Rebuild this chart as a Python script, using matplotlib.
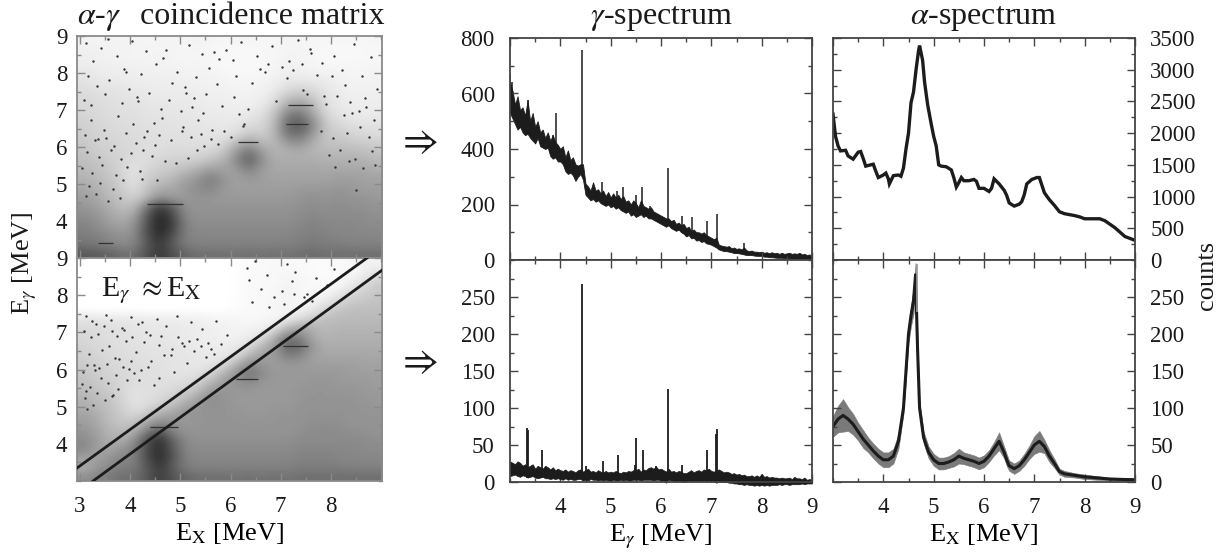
import numpy as np
import matplotlib
matplotlib.use("Agg")
import matplotlib.pyplot as plt
from matplotlib.ticker import MultipleLocator, FixedLocator

plt.rcParams['font.family'] = ['Liberation Serif', 'DejaVu Serif']
plt.rcParams['mathtext.fontset'] = 'stix'

# ---------- coincidence matrices: darkness per 0.25 MeV cell, rows from Eg=8.875 down to 3.125
matrix_top = [
 [6,5,6,5,6,4,5,5,5,6,5,4,5,5,4,4,5,5,4,4,4,4,4,4],
 [7,6,6,5,5,5,5,5,4,5,4,3,3,3,4,4,5,5,4,3,3,3,3,4],
 [7,7,6,6,5,5,6,5,4,5,4,3,3,3,4,4,6,5,4,3,3,3,4,4],
 [9,8,7,7,7,6,6,6,5,5,5,3,3,3,3,5,7,6,5,4,5,4,4,5],
 [12,10,9,8,8,7,7,7,6,6,6,5,4,4,5,6,8,9,8,8,6,5,5,6],
 [14,12,11,11,9,9,8,8,8,7,6,6,5,5,6,8,14,16,14,10,8,6,6,6],
 [16,15,13,12,11,10,9,9,9,8,7,7,6,6,7,12,24,28,22,13,9,7,7,7],
 [17,16,14,13,13,11,11,10,10,9,8,8,7,7,9,18,38,45,32,14,10,8,7,8],
 [18,17,15,14,14,12,12,11,11,10,9,9,8,10,14,26,55,60,40,18,12,10,9,9],
 [20,18,16,15,14,13,13,12,12,11,10,10,11,15,16,30,65,72,52,24,17,14,12,12],
 [22,19,17,16,15,14,13,13,13,12,12,11,13,24,20,32,60,65,45,24,22,18,16,15],
 [24,20,19,17,16,14,14,14,14,14,13,16,30,40,30,30,45,48,35,26,26,24,22,20],
 [26,22,20,18,16,14,15,17,16,16,18,24,44,62,42,32,34,36,32,30,30,30,28,26],
 [28,25,22,18,14,15,18,20,20,22,28,34,50,70,48,36,36,36,36,34,34,34,34,30],
 [30,28,24,18,12,18,22,24,30,36,44,40,42,54,42,38,38,38,38,38,38,38,38,36],
 [34,30,26,20,12,22,26,32,40,46,58,46,40,44,42,40,40,40,40,40,42,42,40,40],
 [38,34,28,22,14,26,36,38,44,50,52,44,42,42,42,42,42,44,44,44,46,44,42,42],
 [42,38,30,26,20,32,48,42,44,46,46,44,44,44,44,44,44,46,48,46,48,46,46,44],
 [46,42,36,28,30,60,88,70,48,46,46,46,46,46,46,46,46,48,50,48,50,48,48,46],
 [50,46,40,34,40,72,94,80,50,48,48,48,48,48,48,48,48,50,52,50,50,50,50,48],
 [54,50,44,40,46,76,96,84,54,50,50,50,50,50,50,50,50,52,54,52,52,52,50,50],
 [56,54,50,46,50,76,92,76,54,52,52,52,52,52,52,52,52,54,56,54,52,52,52,52],
 [60,58,54,50,52,72,86,70,56,54,54,54,54,54,54,54,54,56,58,56,56,54,54,54],
 [72,70,68,62,62,76,86,76,66,62,62,62,60,62,60,62,60,62,64,62,62,62,62,62],
]
matrix_bottom = [
 [0,0,0,0,0,0,0,0,0,0,0,0,1,2,3,3,3,3,2,2,3,4,6,5],
 [0,0,0,0,0,0,0,0,0,0,0,0,1,2,3,3,4,3,2,2,2,3,6,12],
 [0,0,0,0,0,0,0,0,0,0,0,0,1,3,3,3,5,4,3,2,3,6,12,22],
 [0,0,0,0,0,0,0,0,0,0,0,0,1,3,3,4,6,4,3,3,6,14,20,24],
 [0,0,0,0,0,0,0,0,0,0,0,0,1,3,3,4,5,4,4,8,16,22,24,26],
 [0,0,0,0,0,0,0,0,0,0,0,0,2,3,3,4,5,5,10,18,24,28,28,28],
 [12,11,10,10,9,9,8,8,7,7,5,5,4,3,4,4,8,14,22,28,30,30,30,30],
 [16,15,14,13,12,11,10,10,9,8,7,6,5,5,6,10,30,40,34,30,32,32,32,32],
 [17,16,14,13,12,11,11,10,9,8,7,6,6,8,14,34,58,54,36,32,34,34,34,34],
 [19,17,15,14,13,12,12,11,10,9,8,8,10,14,32,42,70,66,44,36,36,36,36,36],
 [21,18,16,15,14,13,12,12,11,10,9,10,14,32,42,42,56,52,40,38,38,38,38,38],
 [23,20,18,16,15,13,13,12,11,10,12,16,34,52,46,42,44,44,42,42,42,42,40,40],
 [25,22,19,17,15,14,13,12,12,14,18,34,48,62,50,44,44,44,44,44,44,42,42,42],
 [27,24,21,17,14,14,14,14,16,20,34,44,46,50,44,44,44,44,46,46,44,44,44,42],
 [30,27,23,18,12,14,14,18,22,32,46,46,44,44,44,44,44,46,46,46,46,46,44,44],
 [34,30,26,20,12,14,18,24,34,44,50,46,44,44,44,44,44,46,46,46,46,46,46,44],
 [38,34,28,22,14,20,30,36,46,46,46,46,46,44,44,46,46,46,48,46,48,46,46,46],
 [42,38,28,24,24,36,46,46,44,46,46,46,46,46,46,46,46,46,48,48,48,46,46,46],
 [46,40,32,30,32,52,70,50,46,46,46,46,46,46,46,46,46,48,50,50,50,48,48,46],
 [50,44,34,34,46,76,90,66,50,48,48,48,48,48,48,48,48,50,50,50,50,50,50,48],
 [52,42,38,46,54,78,92,72,52,50,50,50,50,50,50,50,50,52,52,52,52,52,50,50],
 [42,40,46,52,54,78,92,74,54,52,52,52,52,52,52,52,52,54,54,54,52,52,52,52],
 [34,44,50,56,56,72,86,70,56,54,54,54,54,54,54,54,54,56,56,56,56,54,54,54],
 [48,52,58,62,62,72,84,74,66,62,62,62,60,62,60,62,60,62,62,62,62,62,62,62],
]

# individual dots estimated from the sparser areas
dots_top_x = [3.12,3.26,3.41,3.73,3.88,4.03,4.31,4.52,4.66,4.94,5.18,5.43,5.57,5.92,6.04,6.21,6.53,6.82,7.03,7.34,7.61,7.83,8.22,8.47,8.81,
              3.16,3.33,3.58,3.97,4.22,4.37,4.84,5.09,5.31,5.52,5.74,6.11,6.68,7.12,7.42,7.72,8.02,8.29,8.63,8.92,
              3.07,3.22,3.49,3.84,4.13,4.61,4.77,5.02,5.27,5.46,5.83,6.07,6.34,6.91,7.24,7.53,7.91,8.12,8.38,8.71,
              3.21,3.47,3.76,4.06,4.33,4.64,5.06,5.36,5.63,6.16,6.59,7.17,7.44,7.86,8.26,8.56,8.86,
              3.55,4.15,4.72,5.23,5.78,6.42,7.58,8.42,3.35,3.92,4.48,5.12,5.68,6.27,6.74,8.07,8.68,
              3.09,3.29,3.52,3.68,3.91,4.11,4.28,4.49,4.58,4.82,5.04,5.22,5.41,5.62,5.87,3.14,3.38,3.62,3.82,4.02,
              4.26,4.44,4.69,4.91,5.15,5.33,3.04,3.24,3.44,3.71,3.94,4.19,4.54,3.18,3.39,3.66,3.86,4.23,3.11,3.31,
              3.56,3.79,5.47,5.76,6.0,6.25,7.81,8.05,8.33,8.58,8.77,7.96,8.18,8.49,8.83,8.08,8.36,8.64,8.88,8.5]
dots_top_y = [8.81,8.33,8.68,8.47,8.12,8.87,8.59,8.24,8.41,8.03,8.76,8.52,8.14,8.63,8.36,8.84,8.47,8.72,8.17,8.88,8.53,8.28,8.07,8.79,8.43,
              7.93,7.64,7.82,7.58,7.97,7.46,7.73,7.62,7.88,7.42,7.69,7.92,8.03,7.86,8.23,7.94,7.91,7.67,7.93,7.57,
              7.27,7.13,7.42,7.18,7.36,7.03,7.27,6.98,7.33,6.92,7.12,7.34,7.02,7.23,8.08,7.43,7.17,7.38,7.22,7.07,
              6.73,6.47,6.83,6.62,6.42,6.78,6.53,6.72,6.47,6.88,8.12,8.32,7.53,7.37,6.87,6.98,6.72,
              8.91,7.24,8.62,7.08,8.38,7.73,8.66,6.93,6.21,8.02,6.64,7.47,8.56,6.62,8.23,8.47,7.33,
              6.32,6.18,6.24,6.03,6.37,6.12,6.28,6.05,6.33,6.18,6.44,6.27,6.36,6.22,6.43,5.87,5.74,5.92,5.68,5.83,
              5.92,5.77,5.63,5.58,5.71,5.93,5.42,5.31,5.52,5.23,5.47,5.36,5.12,4.94,5.03,4.87,5.11,5.13,4.67,4.72,
              4.54,4.63,6.02,6.08,6.26,6.58,6.44,6.23,6.37,6.53,6.28,5.78,5.92,5.67,5.88,5.47,5.63,5.42,5.51,4.83]
dots_bottom_x = [6.32,6.48,6.61,6.87,7.12,7.22,7.28,7.53,7.71,7.92,8.07,6.43,6.72,7.03,7.26,7.47,6.36,6.77,7.06,7.62,
                 3.12,3.31,3.52,3.83,4.02,4.24,4.53,4.71,4.93,5.21,5.44,5.72,5.93,3.22,3.63,3.92,4.31,4.62,5.03,5.34,5.61,
                 3.17,3.43,3.78,4.12,4.42,4.82,5.13,5.51,3.06,3.38,3.72,4.07,4.57,4.87,3.58,4.18,3.27,3.97,4.47,3.11,3.66,
                 3.08,3.24,3.36,3.47,3.61,3.74,3.88,4.04,4.16,4.28,4.39,4.58,4.67,4.84,4.96,5.07,5.18,5.27,5.42,5.56,5.67,5.82,
                 3.14,3.29,3.53,3.69,3.85,4.01,4.22,4.36,3.04,3.19,3.41,3.56,3.76,3.94,3.09,3.33,3.49,3.63,3.13,3.26]
dots_bottom_y = [8.73,8.92,8.17,7.94,8.83,8.38,8.62,8.03,8.47,8.27,8.71,7.82,8.53,8.12,8.04,7.96,8.42,7.68,7.77,7.83,
                 7.43,7.22,7.46,7.13,7.41,7.28,7.37,7.16,7.44,7.27,7.08,7.31,6.93,6.87,7.04,6.78,7.02,6.91,6.72,6.83,6.55,
                 6.42,6.53,6.27,6.46,6.23,6.38,6.17,6.33,5.92,6.03,5.84,5.91,5.78,5.93,6.64,5.72,6.12,6.02,5.57,5.43,5.32,
                 7.04,7.31,6.96,7.18,7.34,6.91,7.06,6.88,7.22,6.73,6.94,6.67,6.38,6.56,6.87,6.64,6.77,6.49,6.62,6.72,6.43,6.68,
                 6.12,5.98,6.16,6.32,6.08,6.24,5.98,6.07,5.62,5.52,5.76,5.63,5.47,5.72,5.23,5.36,5.18,5.28,4.93,5.04]

gate_upper_x = [2.94, 8.72]
gate_upper_y = [3.35, 9.0]
gate_lower_x = [3.26, 9.02]
gate_lower_y = [3.0, 8.67]

# gamma spectrum, all coincidences: band edges every 0.05 MeV and narrow lines
gamma_high = [640,610,560,590,540,550,520,575,500,530,480,500,460,470,440,460,430,450,425,415,
              400,410,370,395,360,370,345,340,345,345,275,265,250,280,250,255,240,250,230,245,
              225,240,225,235,220,230,210,215,200,215,205,190,215,195,190,185,190,175,170,165,
              160,155,150,150,140,145,130,135,125,130,115,120,105,110,100,100,95,100,90,85,
              80,75,80,55,52,50,48,50,42,45,40,42,38,45,35,32,34,30,30,28,
              30,26,28,24,28,24,26,22,26,22,24,26,22,24,22,26,20,22,18,20,15]
gamma_low = [530,510,490,470,480,460,450,455,440,430,420,440,410,405,400,405,375,365,370,355,
             355,345,320,310,315,305,285,300,310,290,235,225,215,220,210,215,205,200,195,200,
             190,195,185,190,180,175,170,175,160,165,155,160,165,155,160,150,150,145,140,135,
             130,125,120,125,115,110,105,110,100,95,85,90,78,80,70,72,65,68,60,58,
             55,50,45,38,35,32,32,30,28,25,25,24,22,20,18,18,18,16,15,15,
             15,12,12,10,10,9,8,8,8,7,6,6,5,5,4,4,3,3,2,2,0]
gamma_line_x = [3.0,3.04,3.36,3.85,3.92,4.44,4.83,5.13,5.25,5.5,5.62,5.78,6.13,6.41,6.62,6.92,7.12,7.64]
gamma_line_y = [670,640,575,450,530,755,280,250,262,235,262,195,330,160,155,140,165,60]
gamma_line_base = [600,580,500,400,400,320,230,210,200,190,190,160,140,110,90,75,60,30]

# gamma spectrum, gated
gated_high = [28,26,24,28,26,22,24,20,22,24,18,22,20,18,22,20,17,20,16,18,
              16,15,17,14,16,15,13,16,17,14,16,18,14,15,13,16,14,13,15,13,
              14,13,15,13,12,14,13,15,14,16,16,18,14,17,16,19,20,18,21,17,
              18,16,14,18,14,15,13,15,14,12,12,14,16,13,15,16,14,17,16,18,
              15,14,16,17,15,13,14,13,11,12,10,11,9,10,8,8,9,7,9,7,
              11,7,8,6,7,6,6,5,6,5,5,6,4,7,5,5,4,6,3,4,3]
gated_low = [8,9,10,8,7,9,8,6,7,8,6,5,6,7,5,5,4,5,4,5,
             4,3,5,3,4,3,3,4,4,2,3,2,4,3,3,2,3,2,3,2,
             2,3,2,2,3,2,3,2,2,3,3,3,2,3,3,3,3,2,3,3,
             2,2,-1,3,2,2,1,2,1,0,1,2,1,2,1,2,1,2,1,2,
             1,1,-1,1,0,0,0,-1,-1,-2,-2,-3,-3,-4,-3,-4,-4,-5,-4,-5,
             -4,-5,-4,-5,-4,-4,-4,-3,-4,-3,-3,-4,-3,-3,-3,-3,-2,-3,-2,-2,-2]
gated_line_x = [3.33,3.36,3.64,4.44,4.5,4.84,5.14,5.48,5.51,5.64,5.9,6.13,6.41,6.92,7.10,7.12,8.0]
gated_line_y = [73,70,43,268,22,28,36,23,59,43,22,126,23,43,65,72,10]

# alpha spectrum, all coincidences
alpha_x = [3.0,3.05,3.1,3.15,3.25,3.3,3.4,3.5,3.55,3.6,3.65,3.8,3.85,3.9,4.0,4.05,4.1,4.12,4.2,4.3,4.35,4.4,4.45,4.5,4.55,4.6,4.65,4.7,4.72,4.78,
           4.82,4.88,4.95,5.0,5.05,5.1,5.15,5.25,5.35,5.4,5.45,5.5,5.55,5.6,5.7,5.8,5.85,5.9,6.0,6.1,6.15,6.2,6.25,6.3,6.4,6.45,6.5,6.6,6.7,6.75,
           6.8,6.85,6.95,7.05,7.1,7.2,7.3,7.4,7.5,7.6,7.8,7.9,8.0,8.1,8.3,8.4,8.6,8.8,9.0]
alpha_y = [2300,1950,1800,1720,1730,1640,1590,1700,1710,1600,1480,1510,1400,1300,1340,1370,1280,1200,1330,1340,1320,1450,1750,2000,2480,2650,3000,3300,3380,3150,
           2800,2450,2150,1950,1800,1500,1480,1470,1420,1300,1150,1220,1300,1250,1250,1270,1240,1130,1130,1080,1130,1280,1240,1200,1100,1020,900,850,880,920,
           1030,1200,1270,1300,1300,1060,950,860,760,730,700,680,650,650,650,620,510,370,310]

# alpha spectrum, gated
gated_alpha_x = [3.0,3.1,3.2,3.3,3.4,3.5,3.6,3.7,3.8,3.9,4.0,4.1,4.2,4.3,4.4,4.45,4.5,4.55,4.6,4.64,4.68,4.72,4.8,4.9,5.0,5.1,5.2,5.3,5.4,5.5,5.6,5.7,5.8,5.9,6.0,6.1,
                 6.2,6.3,6.4,6.45,6.5,6.6,6.7,6.8,6.9,7.0,7.1,7.2,7.3,7.4,7.5,7.6,7.8,8.0,8.5,9.0]
gated_alpha_y = [75,85,90,85,78,68,58,50,42,35,30,30,35,55,100,150,200,225,245,280,180,100,60,40,30,25,25,27,30,35,32,30,28,25,28,35,
                 45,55,40,30,22,18,22,30,40,50,55,48,35,25,14,11,9,7,4,3]
gated_alpha_err = [14,18,22,16,14,12,12,10,10,10,10,10,10,10,8,10,12,14,18,16,12,8,8,8,8,8,8,8,9,10,8,8,8,8,8,8,
                   9,12,8,8,7,7,7,8,9,12,14,9,8,6,4,4,3,3,2,2]

left_ticks = [3,4,5,6,7,8]
left_y_ticks = [4,5,6,7,8,9]
right_x_ticks = [4,5,6,7,8,9]
gamma_top_ticks = [0,200,400,600,800]
low_ticks = [0,50,100,150,200,250]
alpha_top_ticks = [0,500,1000,1500,2000,2500,3000,3500]

W, H = 1231, 556
fig = plt.figure(figsize=(W/100, H/100), dpi=100)
FS = 16.5
TITLE = 23
LABEL = 19
GRAY = '#8a8a8a'

def box(x0, y0, x1, y1):
    return fig.add_axes([x0/W, 1-y1/H, (x1-x0)/W, (y1-y0)/H])

def style(ax, color, xmaj, xmin_, ymaj, ymin_, lw=1.3, ypad=11):
    for s in ax.spines.values():
        s.set_color(color); s.set_linewidth(lw)
    ax.xaxis.set_major_locator(xmaj); ax.xaxis.set_minor_locator(xmin_)
    ax.yaxis.set_major_locator(ymaj); ax.yaxis.set_minor_locator(ymin_)
    ax.tick_params(which='major', direction='in', length=5.5, width=1.0, top=True, right=True,
                   color=color, labelcolor='#1a1a1a', labelsize=FS, pad=ypad)
    ax.tick_params(axis='x', which='major', pad=11)
    ax.tick_params(which='minor', direction='in', length=3, width=1.0, top=True, right=True, color=color)

XL = (2.94, 9.02)
def matrix(ax, data, dx, dy):
    ax.imshow(np.array(data, float), extent=[XL[0], XL[1], 3, 9], aspect='auto', cmap='gray_r',
              vmin=0, vmax=110, interpolation='bicubic', zorder=1)
    ax.scatter(dx, dy, s=3.0, color='#333333', linewidths=0, zorder=2)
    ax.set_xlim(*XL); ax.set_ylim(3, 9)
    style(ax, GRAY, FixedLocator(left_ticks), MultipleLocator(0.5), FixedLocator(left_y_ticks), MultipleLocator(0.5), ypad=7)

a1 = box(77, 36, 382, 258)
matrix(a1, matrix_top, dots_top_x, dots_top_y)
a1.tick_params(labelbottom=False)
a1.hlines([4.46, 6.14, 7.13, 6.62, 3.4], [4.33, 6.15, 7.15, 7.1, 3.35], [5.05, 6.55, 7.65, 7.55, 3.65],
          color='#333333', lw=0.9, zorder=3)

a2 = box(77, 258, 382, 481)
matrix(a2, matrix_bottom, dots_bottom_x, dots_bottom_y)
a2.plot(gate_upper_x, gate_upper_y, color='#1c1c1c', lw=2.0, zorder=4)
a2.plot(gate_lower_x, gate_lower_y, color='#1c1c1c', lw=2.0, zorder=4)
a2.hlines([6.62, 5.75, 4.46], [7.05, 6.1, 4.4], [7.55, 6.55, 4.95], color='#333333', lw=0.9, zorder=3)
a2.set_xlabel(r'E$_{\mathrm{X}}$ [MeV]', fontsize=LABEL, labelpad=3)
a2.text(3.42, 7.98, r'E$_{\gamma}$ $\approx$E$_{\mathrm{X}}$', fontsize=21.5, color='#1a1a1a', va='baseline', zorder=5)

channels = np.linspace(3, 9, len(gamma_high))

a3 = box(510, 38, 812, 260)
a3.fill_between(channels, gamma_low, gamma_high, color='#1c1c1c', lw=0.6)
a3.vlines(gamma_line_x, gamma_line_base, gamma_line_y, color='#1c1c1c', lw=1.1)
a3.set_xlim(3, 9); a3.set_ylim(0, 800)
style(a3, '#444444', MultipleLocator(1), MultipleLocator(0.5), FixedLocator(gamma_top_ticks), MultipleLocator(100))
a3.tick_params(labelbottom=False)

a4 = box(510, 260, 812, 482)
a4.fill_between(channels, gated_low, gated_high, color='#1c1c1c', lw=0.5, clip_on=False, zorder=2)
a4.vlines(gated_line_x, 5, gated_line_y, color='#1c1c1c', lw=1.3)
a4.set_xlim(3, 9); a4.set_ylim(0, 300)
style(a4, '#444444', FixedLocator(right_x_ticks), MultipleLocator(0.5), FixedLocator(low_ticks), MultipleLocator(25))
a4.set_xlabel(r'E$_{\gamma}$ [MeV]', fontsize=LABEL, labelpad=3)

a5 = box(833, 38, 1135, 260)
a5.plot(alpha_x, alpha_y, color='#1c1c1c', lw=2.4, solid_joinstyle='miter')
a5.set_xlim(3, 9); a5.set_ylim(0, 3500)
style(a5, '#444444', MultipleLocator(1), MultipleLocator(0.5), FixedLocator(alpha_top_ticks), MultipleLocator(250))
a5.tick_params(labelbottom=False, labelleft=False, labelright=True)

a6 = box(833, 260, 1135, 482)
low = np.array(gated_alpha_y) - np.array(gated_alpha_err)
high = np.array(gated_alpha_y) + np.array(gated_alpha_err)
a6.fill_between(gated_alpha_x, low, high, color='#7a7a7a', lw=0.4)
a6.plot(gated_alpha_x, gated_alpha_y, color='#1c1c1c', lw=2.2)
a6.vlines([4.67], [230], [295], color='#999999', lw=1.2)
a6.set_xlim(3, 9); a6.set_ylim(0, 300)
style(a6, '#444444', FixedLocator(right_x_ticks), MultipleLocator(0.5), FixedLocator(low_ticks), MultipleLocator(25))
a6.tick_params(labelleft=False, labelright=True)
a6.set_xlabel(r'E$_{\mathrm{X}}$ [MeV]', fontsize=LABEL, labelpad=3)

def ftext(px, py, s, **kw):
    fig.text(px/W, 1-py/H, s, fontsize=kw.pop('fontsize', FS), color='#1a1a1a', **kw)

ftext(77, 24, r'$\alpha$-$\gamma$', ha='left', va='baseline', fontsize=TITLE)
ftext(385, 24, 'coincidence matrix', ha='right', va='baseline', fontsize=TITLE)
ftext(661, 24, r'$\gamma$-spectrum', ha='center', va='baseline', fontsize=TITLE)
ftext(984, 24, r'$\alpha$-spectrum', ha='center', va='baseline', fontsize=TITLE)
ftext(25, 263, r'E$_{\gamma}$ [MeV]', rotation=90, ha='center', va='center', fontsize=LABEL)
ftext(1207, 275, 'counts', rotation=90, ha='center', va='center', fontsize=LABEL)
ftext(418, 143, r'$\Rightarrow$', ha='center', va='center', fontsize=28)
ftext(418, 362, r'$\Rightarrow$', ha='center', va='center', fontsize=28)

fig.savefig('out.png', dpi=100)
